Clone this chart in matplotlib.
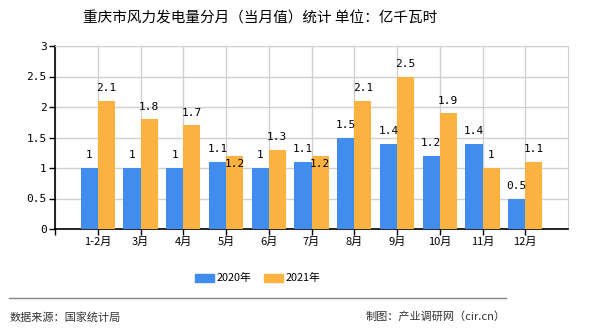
import matplotlib
matplotlib.use("Agg")
import matplotlib.pyplot as plt
import numpy as np

plt.rcParams['font.family'] = ['Noto Sans CJK SC', 'DejaVu Sans']

categories = ["1-2月", "3月", "4月", "5月", "6月", "7月", "8月", "9月", "10月", "11月", "12月"]
values_2020 = [1, 1, 1, 1.1, 1, 1.1, 1.5, 1.4, 1.2, 1.4, 0.5]
values_2021 = [2.1, 1.8, 1.7, 1.2, 1.3, 1.2, 2.1, 2.5, 1.9, 1, 1.1]
series_names = ["2020年", "2021年"]
title = "重庆市风力发电量分月（当月值）统计 单位：亿千瓦时"
yticks = [0, 0.5, 1, 1.5, 2, 2.5, 3]

c20 = '#418CEF'
c21 = '#FBB241'
mono = ['DejaVu Sans Mono']

fig = plt.figure(figsize=(5.9, 3.3), dpi=100)
ax = fig.add_axes([55/590, 1-229/330, 513/590, 183/330])

x = np.arange(len(categories))
w = 0.4
ax.bar(x - w/2, values_2020, width=w, color=c20, zorder=3)
ax.bar(x + w/2, values_2021, width=w, color=c21, zorder=3)

ax.set_xlim(-1, len(categories))
ax.set_ylim(0, 3)
ax.set_yticks(yticks)
ax.set_yticklabels([f"{v:g}" for v in yticks], fontsize=8, family=mono)
ax.set_xticks(np.arange(-1, len(categories)))
ax.set_xticklabels([""] + categories, fontsize=8)
ax.grid(True, color='#d0d0d0', linewidth=1, zorder=0)
ax.tick_params(axis='both', length=4, width=1, color='black', pad=2)
for s in ['top', 'right']:
    ax.spines[s].set_color('#d0d0d0')
for s in ['left', 'bottom']:
    ax.spines[s].set_color('black')
    ax.spines[s].set_linewidth(1.2)

for i, (a, b) in enumerate(zip(values_2020, values_2021)):
    ax.annotate(f"{a:g}", (i - w/2, a), xytext=(0, 9), textcoords='offset points',
                ha='center', va='center', fontsize=8, family=mono, zorder=5)
    if abs(a - b) <= 0.1 and b > a:
        off = -6
    else:
        off = 9
    ax.annotate(f"{b:g}", (i + w/2, b), xytext=(0, off), textcoords='offset points',
                ha='center', va='center', fontsize=8, family=mono, zorder=5)

fig.text(260/590, 1-18/330, title, ha='center', va='center', fontsize=10.5)

from matplotlib.patches import Rectangle
for px, col, name in [(195, c20, series_names[0]), (264, c21, series_names[1])]:
    fig.patches.append(Rectangle((px/590, 1-282/330), 19/590, 8/330, transform=fig.transFigure,
                                 color=col))
    fig.text((px+22)/590, 1-278/330, name, ha='left', va='center', fontsize=7.8)

fig.add_artist(plt.Line2D([9/590, 506/590], [1-298/330, 1-298/330], color='#888888', lw=1,
                          transform=fig.transFigure))
fig.text(10/590, 1-317/330, "数据来源：国家统计局", ha='left', va='center', fontsize=8, color='#333333')
fig.text(506/590, 1-317/330, "制图：产业调研网（cir.cn）", ha='right', va='center', fontsize=8, color='#333333')

fig.savefig("out.png", dpi=100)
